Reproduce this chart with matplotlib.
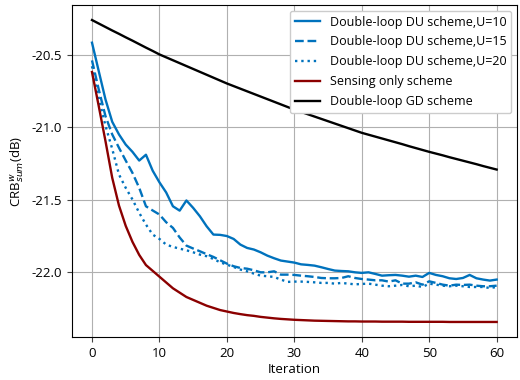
import matplotlib
matplotlib.use("Agg")
import matplotlib.pyplot as plt
import numpy as np

plt.rcParams['font.family'] = ['Open Sans', 'DejaVu Sans']
plt.rcParams['mathtext.fontset'] = 'dejavusans'

iterations = list(range(61))

du_u10 = [-20.418, -20.614, -20.809, -20.963, -21.050, -21.120, -21.170, -21.230, -21.190, -21.300,
          -21.380, -21.450, -21.545, -21.575, -21.505, -21.556, -21.614, -21.683, -21.740, -21.742,
          -21.750, -21.770, -21.809, -21.832, -21.843, -21.862, -21.885, -21.903, -21.919, -21.926,
          -21.933, -21.945, -21.949, -21.954, -21.965, -21.977, -21.988, -21.991, -21.993, -22.000,
          -22.004, -22.000, -22.011, -22.023, -22.020, -22.018, -22.023, -22.030, -22.023, -22.032,
          -22.004, -22.018, -22.027, -22.041, -22.046, -22.039, -22.018, -22.041, -22.050, -22.057,
          -22.050]

du_u15 = [-20.540, -20.740, -20.924, -21.050, -21.142, -21.230, -21.315, -21.418, -21.545, -21.574,
          -21.602, -21.655, -21.694, -21.760, -21.816, -21.836, -21.855, -21.875, -21.894, -21.917,
          -21.940, -21.958, -21.970, -21.975, -21.986, -22.000, -22.000, -21.993, -22.016, -22.016,
          -22.018, -22.023, -22.027, -22.032, -22.039, -22.041, -22.041, -22.039, -22.027, -22.039,
          -22.046, -22.050, -22.055, -22.055, -22.064, -22.055, -22.078, -22.078, -22.069, -22.085,
          -22.062, -22.073, -22.085, -22.092, -22.085, -22.087, -22.085, -22.092, -22.096, -22.096,
          -22.092]

du_u20 = [-20.580, -20.800, -20.990, -21.150, -21.326, -21.418, -21.498, -21.590, -21.671, -21.740,
          -21.770, -21.809, -21.825, -21.837, -21.848, -21.862, -21.878, -21.889, -21.908, -21.931,
          -21.947, -21.963, -21.981, -21.993, -22.009, -22.023, -22.027, -22.032, -22.050, -22.066,
          -22.064, -22.064, -22.066, -22.069, -22.073, -22.073, -22.078, -22.073, -22.078, -22.083,
          -22.080, -22.078, -22.085, -22.092, -22.096, -22.092, -22.087, -22.096, -22.092, -22.101,
          -22.078, -22.085, -22.092, -22.096, -22.092, -22.096, -22.101, -22.101, -22.101, -22.108,
          -22.101]

sensing_only = [-20.620, -20.855, -21.096, -21.349, -21.540, -21.680, -21.790, -21.880, -21.950, -21.990,
                -22.030, -22.070, -22.110, -22.140, -22.170, -22.190, -22.210, -22.230, -22.245, -22.260,
                -22.270, -22.280, -22.288, -22.295, -22.300, -22.307, -22.312, -22.317, -22.321, -22.324,
                -22.327, -22.329, -22.331, -22.333, -22.334, -22.335, -22.336, -22.337, -22.338, -22.338,
                -22.339, -22.339, -22.339, -22.340, -22.340, -22.340, -22.340, -22.341, -22.341, -22.341,
                -22.341, -22.341, -22.341, -22.342, -22.342, -22.342, -22.342, -22.342, -22.342, -22.342,
                -22.342]

gd_scheme = [-20.262, -20.286, -20.310, -20.334, -20.357, -20.381, -20.404, -20.428, -20.452, -20.475,
             -20.499, -20.519, -20.539, -20.559, -20.579, -20.599, -20.619, -20.639, -20.659, -20.679,
             -20.699, -20.717, -20.735, -20.753, -20.771, -20.789, -20.807, -20.825, -20.843, -20.861,
             -20.879, -20.895, -20.911, -20.927, -20.943, -20.959, -20.975, -20.991, -21.007, -21.023,
             -21.039, -21.052, -21.065, -21.078, -21.091, -21.104, -21.117, -21.131, -21.144, -21.157,
             -21.170, -21.182, -21.194, -21.207, -21.219, -21.231, -21.243, -21.255, -21.268, -21.280,
             -21.292]

labels = ["Double-loop DU scheme,U=10", "Double-loop DU scheme,U=15",
          "Double-loop DU scheme,U=20", "Sensing only scheme", "Double-loop GD scheme"]

blue = '#0072BD'
fig = plt.figure(figsize=(5.2, 3.8), dpi=100)
ax = fig.add_axes([0.138, 0.113, 0.856, 0.874])

ax.plot(iterations, du_u10, color=blue, lw=1.7, ls='-', label=labels[0])
ax.plot(iterations, du_u15, color=blue, lw=1.7, ls='--', label=labels[1])
ax.plot(iterations, du_u20, color=blue, lw=1.7, ls=':', label=labels[2])
ax.plot(iterations, sensing_only, color='#8B0000', lw=1.7, ls='-', label=labels[3])
ax.plot(iterations, gd_scheme, color='black', lw=1.7, ls='-', label=labels[4])

ax.set_xticks([0, 10, 20, 30, 40, 50, 60])
ax.set_yticks([-22.0, -21.5, -21.0, -20.5])
ax.set_yticklabels(['-22.0', '-21.5', '-21.0', '-20.5'])
ax.grid(True, color='#b0b0b0', lw=0.8)
ax.tick_params(labelsize=9.5, color='#444444')
ax.set_xlabel('Iteration', fontsize=9.5, labelpad=2)
ax.set_ylabel(r'CRB$^{w}_{sum}$(dB)', fontsize=9.5, labelpad=4)

leg = ax.legend(loc='upper right', fontsize=9, framealpha=1.0, fancybox=True,
                handlelength=2.0, labelspacing=0.55, borderaxespad=0.45)

fig.savefig('out.png', dpi=100)
